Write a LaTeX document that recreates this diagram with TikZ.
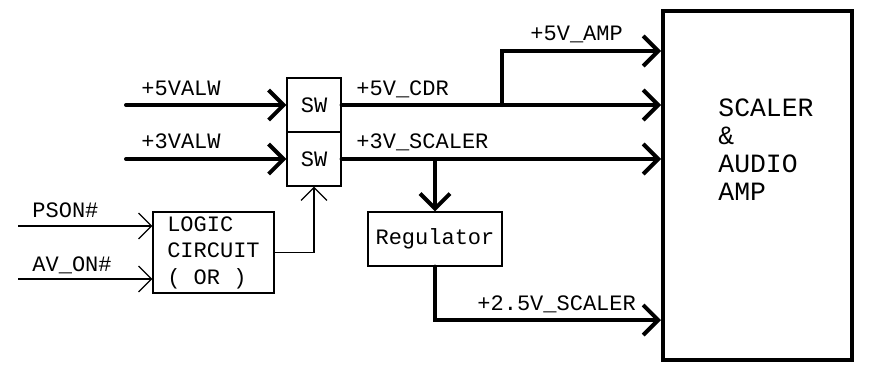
\documentclass[tikz,border=0pt]{standalone}
\usepackage{fontspec}
\setmonofont{Liberation Mono}
\usetikzlibrary{arrows.meta}

\begin{document}
\begin{tikzpicture}[x=0.5pt, y=-0.5pt,
    pwr/.style={line width=2pt, line cap=round, -{Straight Barb[length=7.5pt,width=15pt]}},
    sig/.style={line width=0.6pt, -{Straight Barb[length=6.5pt,width=13pt]}},
    blk/.style={draw, line width=0.6pt, inner sep=0pt, font=\ttfamily\fontsize{11}{13.25}\selectfont},
    lbl/.style={inner sep=0pt, anchor=base west, font=\ttfamily\fontsize{11}{13}\selectfont}]
    \useasboundingbox (0,0) rectangle (877,366);
    % blocks
    \node[blk, minimum width=27pt, minimum height=27pt] (sw1) at (314,105) {SW};
    \node[blk, minimum width=27pt, minimum height=27pt] (sw2) at (314,159) {SW};
    \node[blk, minimum width=60.5pt, minimum height=40.5pt, align=left] (logic) at (213.5,252.5) {LOGIC\\CIRCUIT\\( OR )};
    \node[blk, minimum width=67pt, minimum height=27pt] (reg) at (435,239) {Regulator};
    \node[draw, line width=2pt, minimum width=94.5pt, minimum height=174.5pt] (amp) at (757.5,185.5) {};
    \node[inner sep=0pt, anchor=north west, align=left, font=\ttfamily\fontsize{13.2}{14}\selectfont] (amptxt) at (718,98) {SCALER\\\&\\AUDIO\\AMP};
    % free ends and bends
    \coordinate (in5) at (126,105);
    \coordinate (in3) at (126,159);
    \coordinate (ps) at (18,226);
    \coordinate (av) at (18,279);
    \coordinate (j5) at (502,105);
    \coordinate (a5) at (502,51);
    \coordinate (j3) at (435,159);
    \coordinate (a25) at (435,320);
    % power lines
    \draw[pwr] (in5) -- (sw1);
    \draw[pwr] (in3) -- (sw2);
    \draw[pwr] (sw1) -- (sw1 -| amp.west);
    \draw[pwr] (j5) -- (a5) -- (a5 -| amp.west);
    \draw[pwr] (sw2) -- (sw2 -| amp.west);
    \draw[pwr] (j3) -- (reg);
    \draw[pwr] (reg.south) -- (a25) -- (a25 -| amp.west);
    % control
    \draw[sig] (ps) -- (ps -| logic.west);
    \draw[sig] (av) -- (av -| logic.west);
    \draw[sig] (logic) -| (sw2);
    % labels
    \node[lbl] (l5) at (141,95) {+5VALW};
    \node[lbl] (l3) at (141,148) {+3VALW};
    \node[lbl] (lcdr) at (356,95) {+5V\_CDR};
    \node[lbl] (lsc) at (356,148) {+3V\_SCALER};
    \node[lbl] (lamp) at (530,40) {+5V\_AMP};
    \node[lbl] (l25) at (477,310) {+2.5V\_SCALER};
    \node[lbl] (lps) at (32,217) {PSON\#};
    \node[lbl] (lav) at (32,271) {AV\_ON\#};
\end{tikzpicture}
\end{document}
